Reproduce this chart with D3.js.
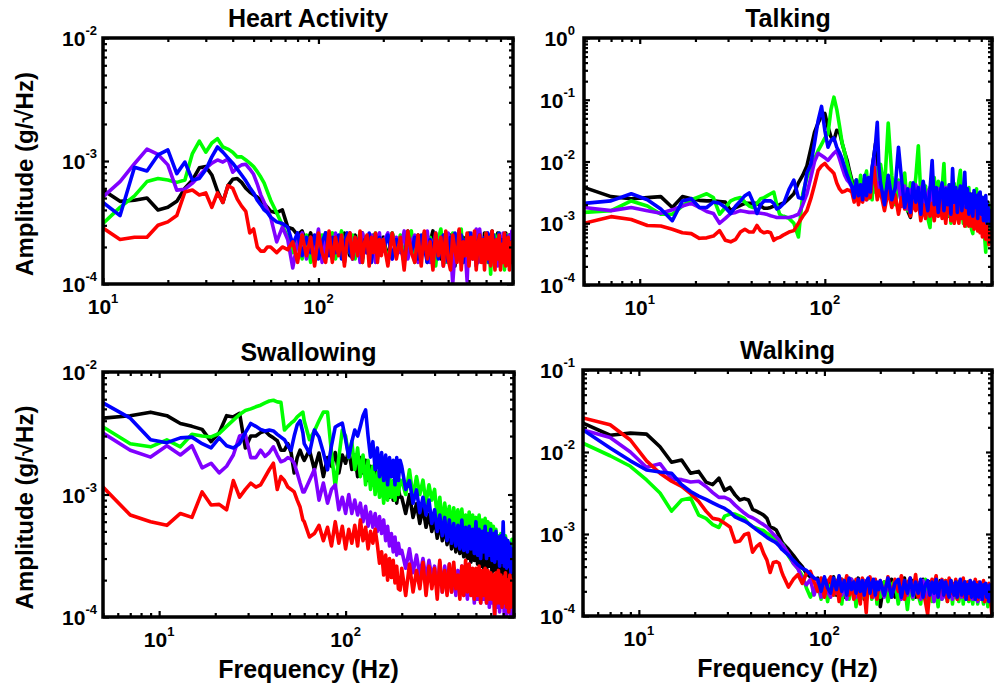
<!DOCTYPE html>
<html>
<head>
<meta charset="utf-8">
<script src="https://cdn.jsdelivr.net/npm/d3@7"></script>
<style>
  body { margin: 0; background: #fff; }
  svg { display: block; }
  text { font-family: "Liberation Sans", Arial, sans-serif; font-weight: bold; fill: #000; }
</style>
</head>
<body>
<svg id="chart" width="1002" height="690"></svg>
<script>
// Frequency bins (Hz): fine below 60 Hz, coarser above
const heartFreq = [d3.range(10, 60, 2), d3.range(60, 200, 4), d3.range(200, 801, 10)];
const bandFreq  = [d3.range(5, 60, 2),  d3.range(60, 200, 4), d3.range(200, 801, 10)];

// ---- Heart activity, amplitude in units of 1e-4 g/√Hz ----
const heartBlack = [
  [5.8,4.7,4.8,5.0,4.0,4.2,4.7,6.0,7.0,8.8,9.0,7.7,5.7,4.6,6.3,7.1,7.2,6.7,6.0,5.6,5.3,5.1,4.8,4.5,4.2],
  [3.9,3.8,4.0,2.9,2.8,2.5,2.7,2.1,2.6,1.9,2.5,1.9,2.6,2.0,1.8,2.5,2.2,1.8,2.6,2.0,1.7,2.4,2.5,1.8,2.2,2.6,1.9,2.4,1.7,2.3,2.5,1.8,2.4,2.0,2.3],
  [2.4,1.6,2.6,1.8,2.3,1.5,2.7,2.0,1.7,2.5,1.9,2.6,1.5,2.2,2.7,1.7,2.4,1.6,2.1,2.6,1.8,2.5,2.0,1.4,2.3,2.7,1.7,2.4,2.1,1.6,2.6,2.2,1.7,2.5,2.0,1.5,2.4,2.2,1.7,2.6,2.0,1.6,2.5,2.1,2.7,1.8,1.5,2.3,2.6,1.9,1.6,2.4,1.8,2.2,2.6,1.7,2.0,2.5,1.8,2.2,2.3]
];
const heartGreen = [
  [3.1,4.2,5.2,6.8,7.2,7.0,6.7,7.0,11.5,14.5,11.8,14.0,15.2,13.0,12.5,11.8,10.8,10.8,10.2,9.6,9.0,8.2,7.4,6.6,5.6],
  [4.8,3.8,3.0,2.4,1.8,2.4,1.6,2.5,1.5,2.3,1.8,2.5,1.6,2.3,2.6,1.6,2.1,2.7,1.5,2.3,1.8,2.5,1.6,2.2,2.6,1.5,2.3,1.8,2.5,1.5,2.2,2.6,1.6,2.3,1.9],
  [2.3,1.5,2.6,1.9,2.5,1.6,2.2,2.7,1.5,2.3,1.8,2.6,1.6,2.4,2.0,1.4,2.3,2.8,1.8,1.5,2.5,2.0,2.6,1.6,2.3,1.8,2.8,1.5,2.1,2.5,1.6,2.3,1.9,2.6,1.5,2.0,2.5,1.7,2.3,1.9,2.6,1.5,2.1,1.2,2.4,1.8,2.5,1.6,2.2,2.6,1.5,2.3,1.9,1.3,2.2,2.5,1.6,2.3,1.9,1.5,2.0]
];
const heartPurple = [
  [5.1,6.8,9.5,12.5,11.3,9.3,5.8,5.9,6.6,7.6,8.7,9.6,10.2,9.8,10.4,8.1,8.8,9.3,9.4,8.6,7.8,6.5,5.3,4.6,4.0],
  [3.5,2.2,2.9,2.3,1.35,2.2,2.6,1.6,2.4,1.8,2.8,1.5,2.4,2.0,1.6,2.6,1.8,2.3,1.5,2.5,2.6,1.6,2.2,2.3,1.5,2.6,1.8,2.3,1.6,2.5,2.0,1.5,2.4,2.6,1.8],
  [2.2,2.6,1.6,2.4,1.8,2.7,1.6,2.2,2.5,1.5,2.3,1.8,2.7,1.5,2.1,2.5,1.7,2.4,1.4,2.0,2.6,2.1,1.0,1.8,2.4,2.7,1.6,2.2,1.9,1.05,2.5,1.7,2.3,1.9,2.8,1.5,2.8,2.1,1.6,2.3,1.9,2.6,1.5,2.1,2.6,1.7,2.3,1.9,1.4,2.5,2.1,1.6,2.6,1.9,2.3,1.5,2.2,2.5,1.7,2.7,2.3]
];
const heartBlue = [
  [4.6,3.6,8.9,8.3,11.2,12.3,7.9,9.8,7.0,7.2,8.5,10.8,13.0,11.8,10.6,9.6,8.6,7.7,6.9,6.1,5.5,4.8,4.4,4.0,3.8],
  [3.5,3.2,3.1,2.9,2.1,2.6,1.7,2.4,1.8,2.5,1.6,2.2,2.6,1.7,2.4,1.8,2.5,1.6,2.2,2.6,1.8,1.6,2.4,2.0,2.5,1.6,2.3,1.8,2.6,1.5,2.2,2.5,1.7,2.4,1.8],
  [1.9,2.5,1.6,2.3,2.1,1.5,2.6,1.8,2.4,1.6,2.5,2.0,1.5,2.3,1.8,2.6,1.6,2.2,2.5,1.8,1.5,2.4,2.0,2.6,1.6,1.9,2.5,1.5,2.3,2.0,1.8,2.6,1.6,2.3,1.4,2.2,2.5,1.8,1.6,2.4,2.0,2.6,1.5,1.9,2.4,2.5,1.6,2.1,1.8,2.6,1.5,2.3,2.0,1.6,2.5,1.8,2.3,1.5,2.2,1.9,1.7]
];
const heartRed = [
  [2.85,2.3,2.4,2.4,3.0,3.2,3.6,5.6,5.8,5.3,5.5,4.2,5.5,4.6,6.3,6.0,4.9,4.3,3.9,2.6,2.8,2.0,1.85,1.85,2.0],
  [2.0,1.8,2.0,1.9,2.2,1.5,2.5,1.7,2.4,1.4,2.6,1.8,1.5,2.7,1.5,2.4,1.7,2.5,1.4,2.3,2.6,1.6,2.4,1.7,2.7,1.5,2.2,2.5,1.4,2.4,1.8,2.6,1.5,2.3,1.7],
  [2.3,1.4,2.6,1.6,2.4,1.3,2.7,1.8,1.5,2.5,1.4,2.7,1.6,2.2,1.3,2.6,1.7,2.4,1.4,2.7,1.6,1.3,2.5,1.9,1.5,2.8,1.3,2.2,1.7,2.6,1.4,2.4,1.6,2.7,1.3,2.1,2.5,1.5,2.3,1.3,2.6,1.6,2.4,1.4,2.7,1.8,1.3,2.3,1.6,2.5,1.3,2.1,1.5,2.6,1.4,1.8,2.4,1.3,1.7,2.2,1.5]
];

// ---- Talking, amplitude in units of 1e-3 g/√Hz ----
const talkBlack = [
  [3.8,2.7,2.5,2.6,2.7,1.8,2.7,2.5,2.35,2.3,2.3,2.25,2.2,1.6,1.8,1.95,2.1,2.1,2.1,2.1,1.9,1.75,1.75,1.8,1.9,1.95,2.0,2.1],
  [2.1,2.5,3.0,4.5,6.0,8.5,16,30,42,55,60,36,25,22,32,30,19.8,14,10.4,7,5,3.0,5.0,2.6,4.4,2.5,4.0,2.8,5.2,3.5,7.5,12,19.8,8,4.0],
  [5.0,2.5,4.2,2.2,4.0,4.8,1.9,3.5,1.6,1.25,3.0,4.0,2.0,4.2,1.8,3.6,1.5,3.2,3.8,1.8,3.4,1.7,3.6,2.0,1.5,3.3,2.0,1.3,3.0,1.7,3.4,1.8,1.4,3.0,3.2,1.5,2.8,1.3,2.6,3.0,1.4,2.8,1.2,3.0,1.6,1.3,2.9,1.2,2.5,1.5,1.2,2.6,1.1,2.3,1.4,1.0,2.2,1.2,0.9,1.6,1.2]
];
const talkGreen = [
  [1.5,1.6,2.3,1.9,1.4,1.4,1.9,2.4,2.7,3.0,2.6,1.4,1.8,2.3,2.5,2.6,2.2,1.9,1.8,2.1,2.5,2.6,2.8,3.0,3.2,2.0,1.4,1.3],
  [1.3,1.2,1.0,0.6,3.0,5.5,8,11,15,19,24,28,70,110,70,38,20,14,9,6.4,4.5,2.8,5.0,2.6,6.0,3.0,5.2,7.0,2.5,5.5,2.4,6.5,3.2,8.0,2.8],
  [9,3.5,42,6,2.0,5,2.2,6.5,1.6,4.5,2.5,5.5,18,3.0,1.8,4.0,1.2,0.85,3.5,5.5,2.0,4.8,1.5,3.6,9.3,2.0,1.3,4.2,1.0,3.0,4.4,1.2,3.2,5.0,7.2,1.6,1.0,3.6,0.9,2.6,3.8,1.1,0.8,0.68,3.0,1.2,3.6,0.9,2.2,3.0,0.8,1.6,2.6,0.6,0.34,1.5,0.8,2.0,0.9,0.6,1.3]
];
const talkPurple = [
  [1.8,1.6,1.8,1.6,1.45,1.65,1.9,2.1,1.8,1.55,1.44,1.0,1.2,1.44,1.5,1.6,1.55,1.5,1.5,1.48,1.45,1.42,1.38,1.32,1.28,1.24,1.24,1.24],
  [1.24,1.24,1.3,1.4,2.0,3.0,5.5,10,13.6,12.5,11.5,10.4,12,13.6,15,11,8,6,5,4.5,3.8,2.4,4.2,2.2,3.8,2.6,4.5,2.4,5.0,3.0,6.0,11.7,6.0,3.0,4.5],
  [4.0,2.0,5.5,2.4,3.6,4.5,1.9,4.0,1.7,3.5,2.0,4.2,1.8,3.4,4.5,1.6,3.0,3.8,1.8,3.2,1.6,3.6,2.0,1.5,3.2,3.8,1.6,3.0,1.5,3.4,2.0,1.4,3.1,1.7,3.6,1.4,2.6,3.0,1.3,2.4,2.8,1.2,2.2,2.6,1.1,2.2,1.2,2.0,1.0,1.8,0.9,1.5,0.8,1.2,0.7,0.9,0.6,0.75,0.5,0.65,0.6]
];
const talkBlue = [
  [2.1,2.3,3.0,2.4,1.7,1.1,2.3,2.5,1.8,1.8,2.2,2.1,1.8,1.44,1.9,2.3,2.8,3.1,2.2,1.44,2.0,2.3,2.3,2.3,2.1,1.7,1.8,2.0],
  [2.1,3.5,5.0,2.6,2.5,6.5,9,20,46,78,32,17,22,24,17,14,11,8,6,4.8,4.0,2.6,5.0,2.8,4.2,2.4,6.0,2.8,5.5,3.2,8.0,12,20,43,8],
  [4.5,2.0,6.0,2.4,3.8,17,5.0,1.8,3.6,1.5,4.5,2.2,3.8,1.4,4.8,2.6,1.6,3.5,10.4,2.0,3.8,1.5,3.2,4.5,1.6,3.6,2.0,4.2,1.4,7.7,2.2,3.8,1.5,3.0,4.0,1.6,3.2,6.7,1.8,3.6,1.4,3.0,2.4,1.3,3.4,1.8,2.8,1.2,3.0,3.2,1.4,2.6,1.1,2.2,2.8,1.0,2.0,1.2,1.6,0.9,1.0]
];
const talkRed = [
  [1.0,1.28,1.15,0.92,0.9,0.8,0.7,0.68,0.57,0.58,0.62,0.76,0.53,0.5,0.55,0.72,0.8,0.72,0.72,0.92,0.75,0.7,0.73,0.7,0.53,0.57,0.59,0.63],
  [0.65,0.72,0.76,1.0,1.3,1.6,2.5,4.2,7.2,8.5,9.3,8.0,7.2,6.4,4.5,3.6,3.2,3.3,3.5,3.4,3.2,2.2,3.4,2.0,3.0,2.2,3.4,2.4,3.8,2.6,5.0,8.0,4.2,2.4,3.4],
  [3.2,1.6,3.4,1.8,2.9,1.4,2.6,1.7,2.8,1.3,2.2,1.6,2.4,1.1,2.0,1.2,2.3,1.3,2.1,1.1,2.0,1.3,2.4,1.2,1.9,1.0,2.0,2.3,1.1,1.9,1.0,2.2,1.3,1.0,2.0,1.2,1.8,0.9,1.7,1.1,0.9,1.8,0.9,1.5,0.8,1.6,1.0,0.75,1.4,0.7,1.2,0.6,1.0,1.2,0.55,0.9,0.6,0.45,0.7,0.55,0.55]
];

// ---- Swallowing, amplitude in units of 1e-4 g/√Hz ----
const swallowBlack = [
  [42,44,47,44,38,36,34,27,32,44,43,46,24,30,30,32,33,30.5,29,27.5,23,23,26,22,15,20,23,20],
  [19,23,16,21.8,14,20,17,22,15,21,18,23,16,21,14,20,15,19,13,17,12,16,11,15,10.5,14,10,13,9.5,12.5,9,12,8.5,11,9.5],
  [9.5,7.0,10,6.5,8.4,5.8,7.8,5.4,6.9,5.0,6.3,4.4,6.0,4.2,5.6,3.9,5.5,3.6,5.0,3.4,4.8,3.3,4.6,3.1,4.5,3.0,4.3,2.8,4.2,2.9,4.0,2.7,3.9,2.6,4.1,2.5,3.8,2.4,3.7,2.6,3.6,2.3,3.8,2.4,3.5,2.2,3.6,2.4,3.4,2.2,3.5,2.3,3.3,2.1,3.4,2.2,3.2,2.3,3.3,2.1,2.6]
];
const swallowGreen = [
  [35.6,26,24.5,27.9,24.5,31,30,29.5,31.5,36,40.5,45,48.5,50,52,53.6,56,58,58.8,57,56.5,33.6,36,38.2,40,43,45,47],
  [40,28,33,40,47,47,22,11.5,20,33.6,30,20,27,16,24,14,21,12,19,11,17,10,15,9.5,14,8.5,13,9,14,9.5,13,9,14,10,13.1],
  [13,10,15.9,9.5,14,10,13.1,8.5,12,9,11,6.5,9.5,5.6,8.5,6,8,5.2,7.8,5.5,7.5,5,7.6,5.2,6.8,4.8,7.2,4.6,6.8,4.8,6.5,4.4,6.8,4.5,6.2,4.2,6.4,4.0,6.0,4.2,5.8,3.8,5.5,4.0,5.2,3.4,4.6,3.0,4.8,3.2,4.5,3.0,4.6,2.9,4.2,2.75,4.0,2.8,4.3,2.9,3.6]
];
const swallowPurple = [
  [31.7,23,20.2,25,21,25,16.5,18,15,17,21,30,31,20,20,23,20.5,22,24.5,21,18.5,19,20,19.5,18,15,12.4,10.5],
  [10.5,13,16,9,12.4,8.5,11,12,7.5,9.5,7,10,7,9,6.8,8.5,6,8,5.5,7.2,5.4,7,5,6.6,4.8,6.2,4.2,5.5,3.8,4.8,3.4,4.5,3.2,4.0,3.3],
  [3.5,2.5,3.6,2.3,3.2,2.2,3.0,2.0,2.9,2.1,2.6,1.7,2.8,1.6,2.6,1.8,2.7,1.6,2.5,1.5,2.4,1.6,2.6,1.5,2.4,1.4,2.7,1.5,2.3,1.3,2.3,1.4,2.5,1.3,2.2,1.4,2.0,1.3,2.1,1.2,2.0,1.3,1.9,1.0,1.9,1.2,2.0,1.1,1.8,1.2,1.7,1.0,1.8,0.95,1.6,1.1,1.7,1.0,1.5,1.05,1.3]
];
const swallowBlue = [
  [56,42,28,26.5,29,29.4,26,24,29,25,24,26,32,38,36,34,33,33.6,33,31,29.4,28,25,23,30,37,40,32],
  [26,21.8,33.6,29.4,22,15.9,25,35.6,37,38.2,28,20.2,27,33.6,30,36,44,49,30,20.2,27,16,24,14,22,13,21,12,20,14,19,12,20,13,19],
  [17,11,13,8.5,10.9,7.1,9.5,6.8,9,5.8,7.5,5.0,6.8,4.6,6.5,4.2,6.2,4.0,5.8,3.8,5.6,3.6,6.2,3.5,5.4,3.4,5.5,3.6,5.2,3.3,6.0,3.2,5.2,3.0,5.0,3.4,5.5,3.0,4.8,3.2,5.2,2.9,4.8,2.8,5.0,3.0,4.5,2.6,4.6,2.8,6.0,2.6,4.4,2.5,4.2,2.6,4.0,2.3,3.6,2.4,2.8]
];
const swallowRed = [
  [11.5,6.8,6.0,5.6,7.0,6.5,10.5,8.2,8.3,7.5,13,9.5,11,12.4,11.5,12,13.9,16,18,11,14,13,11.5,11,10.5,9,7.9,6.2],
  [6,4.5,4.8,5.6,4.2,5.4,3.8,6.0,4.0,5.5,3.6,5.2,4.0,5.6,3.8,6.2,4.2,5.4,3.6,5.0,4.0,5.2,3.9,2.75,3.4,2.2,3.2,2.0,3.0,2.1,2.9,1.9,2.6,1.7,1.66],
  [2.5,1.5,2.7,1.6,2.4,1.7,2.8,1.5,2.6,1.7,2.5,1.4,2.9,1.6,2.4,1.5,2.7,1.6,2.8,1.7,2.2,1.4,2.6,1.5,2.9,1.6,2.7,1.5,2.5,1.4,2.5,1.5,2.6,1.3,2.4,1.5,2.5,1.3,2.4,1.4,2.3,1.4,2.2,1.05,2.3,1.3,2.4,1.3,2.2,1.2,2.1,1.3,2.3,1.2,2.0,1.1,2.2,1.2,2.0,1.3,1.8]
];

// ---- Walking, amplitude in units of 1e-4 g/√Hz ----
const walkBlack = [
  [225,160,170,165,116,75,80,55,58,43,40,48,34,37,30,26,27,26,20,19,18,17,15.5,12.2,11.8,11.2,9.5,8.0],
  [7.6,6.5,5.5,4.6,4.0,3.3,3.0,2.8,2.9,1.9,2.7,1.8,2.6,3.0,1.8,2.5,2.8,1.7,2.6,2.0,2.8,1.8,2.5,2.9,1.9,2.6,1.6,2.4,2.8,2.0,1.8,2.6,2.3,1.7,2.5],
  [1.3,2.6,1.8,2.8,1.7,2.5,1.9,2.9,1.6,2.4,2.7,1.7,2.5,1.8,2.8,1.6,2.3,2.6,1.7,2.5,1.9,1.6,2.7,1.8,2.4,2.6,1.6,2.2,2.7,1.7,2.4,1.8,2.6,1.6,2.3,2.5,1.7,2.6,1.8,2.3,1.6,2.5,1.7,2.4,1.8,2.2,2.5,1.5,2.3,1.8,2.4,1.6,2.2,1.9,2.3,1.5,2.2,1.7,2.1,1.6,1.9]
];
const walkGreen = [
  [128,90,67,45.6,31.6,19,26,27.5,17,15.5,13,12,16.5,17.5,17.5,16.5,15.5,13.5,12.3,11.8,11.3,11,10.2,9.6,9.1,8.6,8.1,7.6],
  [7.4,5.4,4.4,3.8,3.1,2.2,1.7,2.1,2.5,1.6,2.6,1.5,2.4,1.8,2.7,1.9,1.4,2.5,2.8,1.6,2.3,2.6,1.3,2.2,2.5,1.7,2.7,1.5,2.3,2.6,1.6,2.2,2.5,1.4,2.3],
  [1.7,2.6,1.5,2.4,2.7,1.4,2.2,2.5,1.2,2.4,1.6,2.7,1.8,1.4,2.5,2.8,1.6,2.3,1.5,2.6,2.0,1.3,2.5,1.6,2.3,2.7,1.5,2.2,2.5,1.4,2.4,1.7,2.6,1.5,2.2,2.5,1.4,2.3,1.7,2.6,1.5,2.2,2.5,1.4,2.3,1.7,2.2,1.4,2.5,1.6,2.2,1.7,1.4,2.3,1.6,2.1,1.3,2.0,1.4,1.9,1.5]
];
const walkPurple = [
  [186,150,100,65,72,47,46,43,44,38,32,28,28,26,22.5,20,18,16.5,15.8,14.8,13.8,13,12.2,11,10,9.2,8.4,7.5],
  [7.2,5.8,4.4,3.8,2.8,2.4,2.8,1.8,2.6,1.7,2.8,2.0,1.7,2.7,1.9,2.9,1.8,2.5,1.6,2.4,2.8,1.9,1.7,2.6,2.4,1.8,2.7,1.6,2.4,2.0,2.8,1.7,2.5,1.8,2.4],
  [2.4,1.7,2.6,1.8,2.3,2.7,1.6,2.5,1.8,2.6,1.7,2.3,2.5,1.6,2.7,1.8,1.7,2.5,2.2,1.5,2.6,1.8,2.4,1.6,2.3,1.7,2.6,1.8,2.4,1.6,2.3,2.0,1.6,2.5,1.8,1.7,2.3,2.6,1.6,2.1,2.4,1.7,2.5,1.6,2.2,2.4,1.7,1.5,2.2,2.4,1.6,2.2,1.8,1.5,2.3,1.6,2.1,1.8,1.5,2.0,1.7]
];
const walkBlue = [
  [186,112,78,60.4,57,55,40,33,29,26.5,24,22,20.5,18.5,16.2,15.2,14.4,13.4,12.3,11.3,10.5,9.8,9.1,8.6,8.2,7.8,7.2,6.5],
  [6.3,5.5,4.8,4.2,3.8,3.6,3.2,2.9,2.8,2.0,3.0,2.2,1.9,2.9,2.1,3.1,2.0,2.7,1.8,2.9,2.1,2.6,1.9,2.8,2.0,2.7,1.8,2.6,2.9,1.9,2.5,2.8,1.8,2.6,2.1],
  [2.7,1.8,2.9,1.7,2.5,2.8,1.7,2.7,1.9,2.9,1.8,2.6,1.9,2.8,1.7,2.4,2.7,1.8,2.6,1.9,2.8,1.7,2.5,2.7,1.8,2.6,2.0,1.7,2.7,2.1,1.8,2.6,1.7,2.4,2.8,1.8,2.3,2.6,1.6,2.4,1.9,2.7,1.7,2.3,2.6,1.6,2.4,1.9,1.7,2.6,2.1,1.6,2.4,1.9,2.5,1.7,2.3,1.5,2.4,1.8,2.2]
];
const walkRed = [
  [260,215,140,78,55,44,38,31,25,19,15.5,15,13.5,12.2,8,8.2,9.8,10.2,6,7,7.6,5.8,4.8,3.4,4.5,4.6,4.4,3.4],
  [3.1,2.25,2.8,3.2,2.5,3.3,3.5,2.6,2.0,2.9,1.7,2.6,3.0,1.8,2.7,1.5,2.8,2.2,3.1,1.8,2.6,1.6,2.8,2.0,1.4,2.9,2.0,1.1,2.6,3.0,1.7,2.4,2.8,1.6,2.3],
  [2.7,1.8,3.0,1.7,2.8,2.0,3.1,1.6,2.5,2.9,1.9,3.2,1.7,2.7,2.0,1.5,1.05,2.2,2.8,2.4,3.1,1.7,2.4,2.8,1.8,2.7,1.5,2.9,1.9,2.5,1.8,2.8,1.6,2.4,2.7,1.8,2.9,1.7,2.3,2.6,1.6,2.7,1.8,2.5,1.7,2.8,2.2,1.6,2.6,1.9,2.4,1.7,2.7,1.5,2.3,2.0,1.6,2.5,1.8,1.4,1.0]
];

const colors = { black: "#000000", green: "#00ff00", purple: "#8000ff", blue: "#0000ff", red: "#ff0000" };

const panels = [
  { title: "Heart Activity", box: [103, 38, 513, 284], xDomain: [10, 800], yExp: [-4, -2],
    unit: 1e-4, freq: heartFreq, yLabel: true, xLabel: false, labelGap: 6,
    series: [["black", heartBlack], ["green", heartGreen], ["purple", heartPurple], ["blue", heartBlue], ["red", heartRed]] },
  { title: "Talking", box: [584, 38, 992, 285], xDomain: [5, 800], yExp: [-4, 0],
    unit: 1e-3, freq: bandFreq, yLabel: false, xLabel: false, labelGap: 9,
    series: [["black", talkBlack], ["green", talkGreen], ["purple", talkPurple], ["red", talkRed], ["blue", talkBlue]] },
  { title: "Swallowing", box: [103, 372, 514, 617], xDomain: [5, 800], yExp: [-4, -2],
    unit: 1e-4, freq: bandFreq, yLabel: true, xLabel: true, labelGap: 6,
    series: [["black", swallowBlack], ["green", swallowGreen], ["purple", swallowPurple], ["blue", swallowBlue], ["red", swallowRed]] },
  { title: "Walking", box: [583, 370, 992, 616], xDomain: [5, 800], yExp: [-4, -1],
    unit: 1e-4, freq: bandFreq, yLabel: false, xLabel: true, labelGap: 8,
    series: [["black", walkBlack], ["green", walkGreen], ["purple", walkPurple], ["red", walkRed], ["blue", walkBlue]] }
];

const svg = d3.select("#chart");

// "10" with a raised exponent
function powLabel(g, x, y, exp, anchor) {
  const t = g.append("text").attr("x", x).attr("y", y)
    .attr("text-anchor", anchor).attr("font-size", 21);
  t.append("tspan").text("10");
  t.append("tspan").attr("dy", -11).attr("font-size", 13).text(exp);
}

// major and minor log ticks inside a domain
function logTicks(lo, hi) {
  const major = [], minor = [];
  for (let e = Math.floor(Math.log10(lo)); e <= Math.ceil(Math.log10(hi)); e++) {
    for (let m = 1; m <= 9; m++) {
      const v = m * Math.pow(10, e);
      if (v < lo * 0.999 || v > hi * 1.001) continue;
      (m === 1 ? major : minor).push(v);
    }
  }
  return { major, minor };
}

panels.forEach((p, i) => {
  const [x0, y0, x1, y1] = p.box;
  const w = x1 - x0, h = y1 - y0;
  const g = svg.append("g").attr("transform", `translate(${x0},${y0})`);

  const x = d3.scaleLog().domain(p.xDomain).range([0, w]);
  const y = d3.scaleLog().domain([Math.pow(10, p.yExp[0]), Math.pow(10, p.yExp[1])]).range([h, 0]);

  const clipId = "clip" + i;
  g.append("clipPath").attr("id", clipId)
    .append("rect").attr("x", 0).attr("y", 0).attr("width", w).attr("height", h);

  const line = d3.line().x(d => x(d[0])).y(d => y(d[1]));

  const plot = g.append("g").attr("clip-path", `url(#${clipId})`);
  p.series.forEach(([name, segs]) => {
    const pts = [];
    segs.forEach((vals, s) => {
      const fs = p.freq[s];
      const n = Math.min(vals.length, fs.length);
      for (let k = 0; k < n; k++) pts.push([fs[k], vals[k] * p.unit]);
    });
    plot.append("path").datum(pts)
      .attr("d", line)
      .attr("fill", "none")
      .attr("stroke", colors[name])
      .attr("stroke-width", 3.6)
      .attr("stroke-linejoin", "round")
      .attr("stroke-linecap", "round");
  });

  // inward ticks on all four sides
  const xt = logTicks(p.xDomain[0], p.xDomain[1]);
  const yt = logTicks(y.domain()[0], y.domain()[1]);
  [[xt.major, 6], [xt.minor, 4]].forEach(([vals, len]) => {
    g.append("g").attr("transform", `translate(0,${h})`)
      .call(d3.axisBottom(x).tickValues(vals).tickSizeInner(-len).tickSizeOuter(0).tickFormat(""));
    g.append("g")
      .call(d3.axisTop(x).tickValues(vals).tickSizeInner(-len).tickSizeOuter(0).tickFormat(""));
  });
  [[yt.major, 6], [yt.minor, 4]].forEach(([vals, len]) => {
    g.append("g")
      .call(d3.axisLeft(y).tickValues(vals).tickSizeInner(-len).tickSizeOuter(0).tickFormat(""));
    g.append("g").attr("transform", `translate(${w},0)`)
      .call(d3.axisRight(y).tickValues(vals).tickSizeInner(-len).tickSizeOuter(0).tickFormat(""));
  });
  g.selectAll(".domain").remove();
  g.selectAll(".tick line").attr("stroke", "#000").attr("stroke-width", 2.2);

  // frame
  g.append("rect").attr("x", 0).attr("y", 0).attr("width", w).attr("height", h)
    .attr("fill", "none").attr("stroke", "#000").attr("stroke-width", 3.5);

  // tick labels
  for (let e = p.yExp[0]; e <= p.yExp[1]; e++) {
    powLabel(g, -p.labelGap, y(Math.pow(10, e)) + 8, String(e), "end");
  }
  xt.major.forEach(v => powLabel(g, x(v), h + 30, String(Math.round(Math.log10(v))), "middle"));

  // titles and axis names
  g.append("text").attr("x", w / 2).attr("y", -11).attr("text-anchor", "middle")
    .attr("font-size", 25).text(p.title);
  if (p.yLabel) {
    g.append("text").attr("transform", `translate(${33 - x0},${h / 2 + 13}) rotate(-90)`)
      .attr("text-anchor", "middle").attr("font-size", 24).text("Amplitude (g/\u221AHz)");
  }
  if (p.xLabel) {
    g.append("text").attr("x", w / 2).attr("y", h + 61).attr("text-anchor", "middle")
      .attr("font-size", 25).text("Frequency (Hz)");
  }
});
</script>
</body>
</html>
